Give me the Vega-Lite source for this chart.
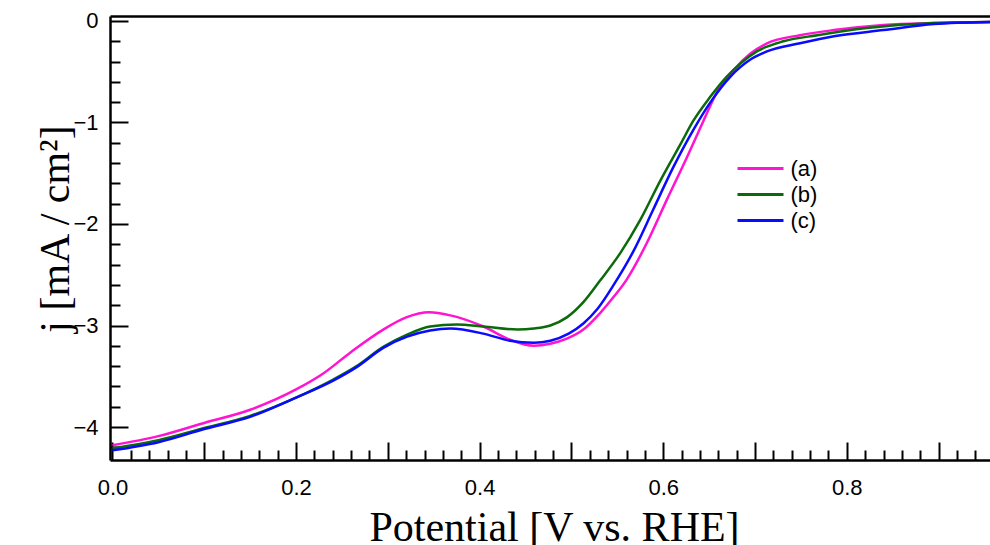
{
  "$schema": "https://vega.github.io/schema/vega-lite/v6.json",
  "width": 880,
  "height": 444,
  "autosize": {"type": "none"},
  "padding": {"left": 110, "top": 16, "right": 0, "bottom": 85},
  "background": "white",
  "config": {
    "view": {"stroke": null},
    "axis": {"grid": false, "labelFont": "Liberation Sans", "labelFontSize": 22, "labelColor": "black", "titleFont": "Liberation Serif", "titleFontWeight": "normal", "titleColor": "black", "domainColor": "black", "tickColor": "black", "domainWidth": 2.5, "tickWidth": 2},
    "legend": {"labelFont": "Liberation Sans", "labelFontSize": 22, "labelColor": "black"}
  },
  "data": {"values": [
    {"s": "(a)", "V": 0.000, "j": -4.18},
    {"s": "(a)", "V": 0.050, "j": -4.09},
    {"s": "(a)", "V": 0.100, "j": -3.96},
    {"s": "(a)", "V": 0.150, "j": -3.83},
    {"s": "(a)", "V": 0.200, "j": -3.63},
    {"s": "(a)", "V": 0.230, "j": -3.47},
    {"s": "(a)", "V": 0.260, "j": -3.26},
    {"s": "(a)", "V": 0.295, "j": -3.04},
    {"s": "(a)", "V": 0.320, "j": -2.92},
    {"s": "(a)", "V": 0.345, "j": -2.87},
    {"s": "(a)", "V": 0.368, "j": -2.90},
    {"s": "(a)", "V": 0.404, "j": -3.01},
    {"s": "(a)", "V": 0.433, "j": -3.14},
    {"s": "(a)", "V": 0.459, "j": -3.20},
    {"s": "(a)", "V": 0.477, "j": -3.18},
    {"s": "(a)", "V": 0.495, "j": -3.13},
    {"s": "(a)", "V": 0.513, "j": -3.04},
    {"s": "(a)", "V": 0.531, "j": -2.88},
    {"s": "(a)", "V": 0.545, "j": -2.73},
    {"s": "(a)", "V": 0.560, "j": -2.55},
    {"s": "(a)", "V": 0.582, "j": -2.19},
    {"s": "(a)", "V": 0.604, "j": -1.76},
    {"s": "(a)", "V": 0.626, "j": -1.34},
    {"s": "(a)", "V": 0.644, "j": -0.98},
    {"s": "(a)", "V": 0.658, "j": -0.71},
    {"s": "(a)", "V": 0.677, "j": -0.48},
    {"s": "(a)", "V": 0.695, "j": -0.32},
    {"s": "(a)", "V": 0.713, "j": -0.22},
    {"s": "(a)", "V": 0.749, "j": -0.14},
    {"s": "(a)", "V": 0.786, "j": -0.09},
    {"s": "(a)", "V": 0.840, "j": -0.04},
    {"s": "(a)", "V": 0.895, "j": -0.02},
    {"s": "(a)", "V": 0.956, "j": -0.01},
    {"s": "(b)", "V": 0.000, "j": -4.21},
    {"s": "(b)", "V": 0.050, "j": -4.13},
    {"s": "(b)", "V": 0.100, "j": -4.01},
    {"s": "(b)", "V": 0.150, "j": -3.89},
    {"s": "(b)", "V": 0.200, "j": -3.71},
    {"s": "(b)", "V": 0.241, "j": -3.53},
    {"s": "(b)", "V": 0.266, "j": -3.40},
    {"s": "(b)", "V": 0.295, "j": -3.21},
    {"s": "(b)", "V": 0.321, "j": -3.09},
    {"s": "(b)", "V": 0.346, "j": -3.01},
    {"s": "(b)", "V": 0.375, "j": -2.99},
    {"s": "(b)", "V": 0.404, "j": -3.01},
    {"s": "(b)", "V": 0.441, "j": -3.04},
    {"s": "(b)", "V": 0.459, "j": -3.03},
    {"s": "(b)", "V": 0.477, "j": -3.00},
    {"s": "(b)", "V": 0.495, "j": -2.92},
    {"s": "(b)", "V": 0.513, "j": -2.77},
    {"s": "(b)", "V": 0.531, "j": -2.56},
    {"s": "(b)", "V": 0.553, "j": -2.29},
    {"s": "(b)", "V": 0.575, "j": -1.96},
    {"s": "(b)", "V": 0.597, "j": -1.57},
    {"s": "(b)", "V": 0.619, "j": -1.21},
    {"s": "(b)", "V": 0.633, "j": -0.98},
    {"s": "(b)", "V": 0.651, "j": -0.75},
    {"s": "(b)", "V": 0.669, "j": -0.55},
    {"s": "(b)", "V": 0.684, "j": -0.42},
    {"s": "(b)", "V": 0.702, "j": -0.30},
    {"s": "(b)", "V": 0.731, "j": -0.20},
    {"s": "(b)", "V": 0.768, "j": -0.14},
    {"s": "(b)", "V": 0.822, "j": -0.07},
    {"s": "(b)", "V": 0.895, "j": -0.02},
    {"s": "(b)", "V": 0.956, "j": -0.01},
    {"s": "(c)", "V": 0.000, "j": -4.23},
    {"s": "(c)", "V": 0.050, "j": -4.15},
    {"s": "(c)", "V": 0.100, "j": -4.02},
    {"s": "(c)", "V": 0.150, "j": -3.90},
    {"s": "(c)", "V": 0.200, "j": -3.71},
    {"s": "(c)", "V": 0.241, "j": -3.54},
    {"s": "(c)", "V": 0.266, "j": -3.41},
    {"s": "(c)", "V": 0.295, "j": -3.22},
    {"s": "(c)", "V": 0.321, "j": -3.11},
    {"s": "(c)", "V": 0.346, "j": -3.05},
    {"s": "(c)", "V": 0.368, "j": -3.03},
    {"s": "(c)", "V": 0.404, "j": -3.08},
    {"s": "(c)", "V": 0.433, "j": -3.15},
    {"s": "(c)", "V": 0.459, "j": -3.17},
    {"s": "(c)", "V": 0.477, "j": -3.15},
    {"s": "(c)", "V": 0.497, "j": -3.08},
    {"s": "(c)", "V": 0.513, "j": -2.98},
    {"s": "(c)", "V": 0.528, "j": -2.84},
    {"s": "(c)", "V": 0.546, "j": -2.60},
    {"s": "(c)", "V": 0.568, "j": -2.26},
    {"s": "(c)", "V": 0.589, "j": -1.86},
    {"s": "(c)", "V": 0.611, "j": -1.44},
    {"s": "(c)", "V": 0.633, "j": -1.07},
    {"s": "(c)", "V": 0.653, "j": -0.78},
    {"s": "(c)", "V": 0.673, "j": -0.55},
    {"s": "(c)", "V": 0.695, "j": -0.38},
    {"s": "(c)", "V": 0.713, "j": -0.30},
    {"s": "(c)", "V": 0.749, "j": -0.22},
    {"s": "(c)", "V": 0.786, "j": -0.15},
    {"s": "(c)", "V": 0.840, "j": -0.09},
    {"s": "(c)", "V": 0.895, "j": -0.03},
    {"s": "(c)", "V": 0.956, "j": -0.01}
  ]},
  "resolve": {"axis": {"x": "independent", "y": "independent"}},
  "layer": [
    {
      "mark": {"type": "line", "strokeWidth": 2.5, "interpolate": "monotone", "clip": true},
      "encoding": {
        "x": {"field": "V", "type": "quantitative",
          "scale": {"domain": [-0.0027, 0.956], "nice": false, "zero": false},
          "axis": {"orient": "bottom", "values": [0, 0.1, 0.2, 0.3, 0.4, 0.5, 0.6, 0.7, 0.8, 0.9], "tickSize": -18, "labelPadding": 52, "labelBaseline": "alphabetic", "labelFont": "Liberation Sans", "labelFontSize": 22, "labelExpr": "round(datum.value * 10) % 2 == 0 ? format(datum.value, '.1f') : ''", "labelFlush": false, "labelOverlap": false, "title": "Potential [V vs. RHE]", "titleFontSize": 42, "titleX": 444, "titleY": 80, "titleBaseline": "alphabetic", "titleAlign": "center"}},
        "y": {"field": "j", "type": "quantitative",
          "scale": {"domain": [-4.325, 0.049], "nice": false, "zero": false},
          "axis": {"orient": "left", "values": [-4, -3, -2, -1, 0], "format": "d", "tickSize": -18, "labelPadding": 30, "labelFont": "Liberation Sans", "labelFontSize": 22, "labelFlush": false, "labelOverlap": false, "title": "j [mA / cm²]", "titleFontSize": 42, "titleAngle": -90, "titleX": -42, "titleY": 212.5, "titleBaseline": "alphabetic", "titleAlign": "center"}},
        "color": {"field": "s", "type": "nominal",
          "scale": {"domain": ["(a)", "(b)", "(c)"], "range": ["#ff14d2", "#0b6b0b", "#0a0aff"]},
          "legend": {"orient": "none", "legendX": 637.5, "legendY": 139.5, "title": null, "symbolType": "M-2,0H2", "symbolSize": 529, "symbolStrokeWidth": 3, "symbolFillColor": "transparent", "labelFont": "Liberation Sans", "labelFontSize": 22, "labelOffset": 17, "rowPadding": 2, "padding": 0}}
      }
    },
    {
      "mark": {"type": "line", "opacity": 0},
      "encoding": {
        "x": {"field": "V", "type": "quantitative",
          "scale": {"domain": [-0.0027, 0.956], "nice": false, "zero": false},
          "axis": {"orient": "bottom", "values": [0.02, 0.04, 0.06, 0.08, 0.12, 0.14, 0.16, 0.18, 0.22, 0.24, 0.26, 0.28, 0.32, 0.34, 0.36, 0.38, 0.42, 0.44, 0.46, 0.48, 0.52, 0.54, 0.56, 0.58, 0.62, 0.64, 0.66, 0.68, 0.72, 0.74, 0.76, 0.78, 0.82, 0.84, 0.86, 0.88, 0.92, 0.94], "tickSize": -10, "labels": false, "domain": false, "title": null}},
        "y": {"field": "j", "type": "quantitative",
          "scale": {"domain": [-4.325, 0.049], "nice": false, "zero": false},
          "axis": {"orient": "left", "values": [-4.2, -3.8, -3.6, -3.4, -3.2, -2.8, -2.6, -2.4, -2.2, -1.8, -1.6, -1.4, -1.2, -0.8, -0.6, -0.4, -0.2], "tickSize": -10, "labels": false, "domain": false, "title": null}}
      }
    },
    {
      "mark": {"type": "line", "opacity": 0},
      "encoding": {
        "x": {"field": "V", "type": "quantitative",
          "scale": {"domain": [-0.0027, 0.956], "nice": false, "zero": false},
          "axis": {"orient": "top", "ticks": false, "labels": false, "domain": true, "title": null}},
        "y": {"field": "j", "type": "quantitative",
          "scale": {"domain": [-4.325, 0.049], "nice": false, "zero": false},
          "axis": null}
      }
    }
  ]
}
